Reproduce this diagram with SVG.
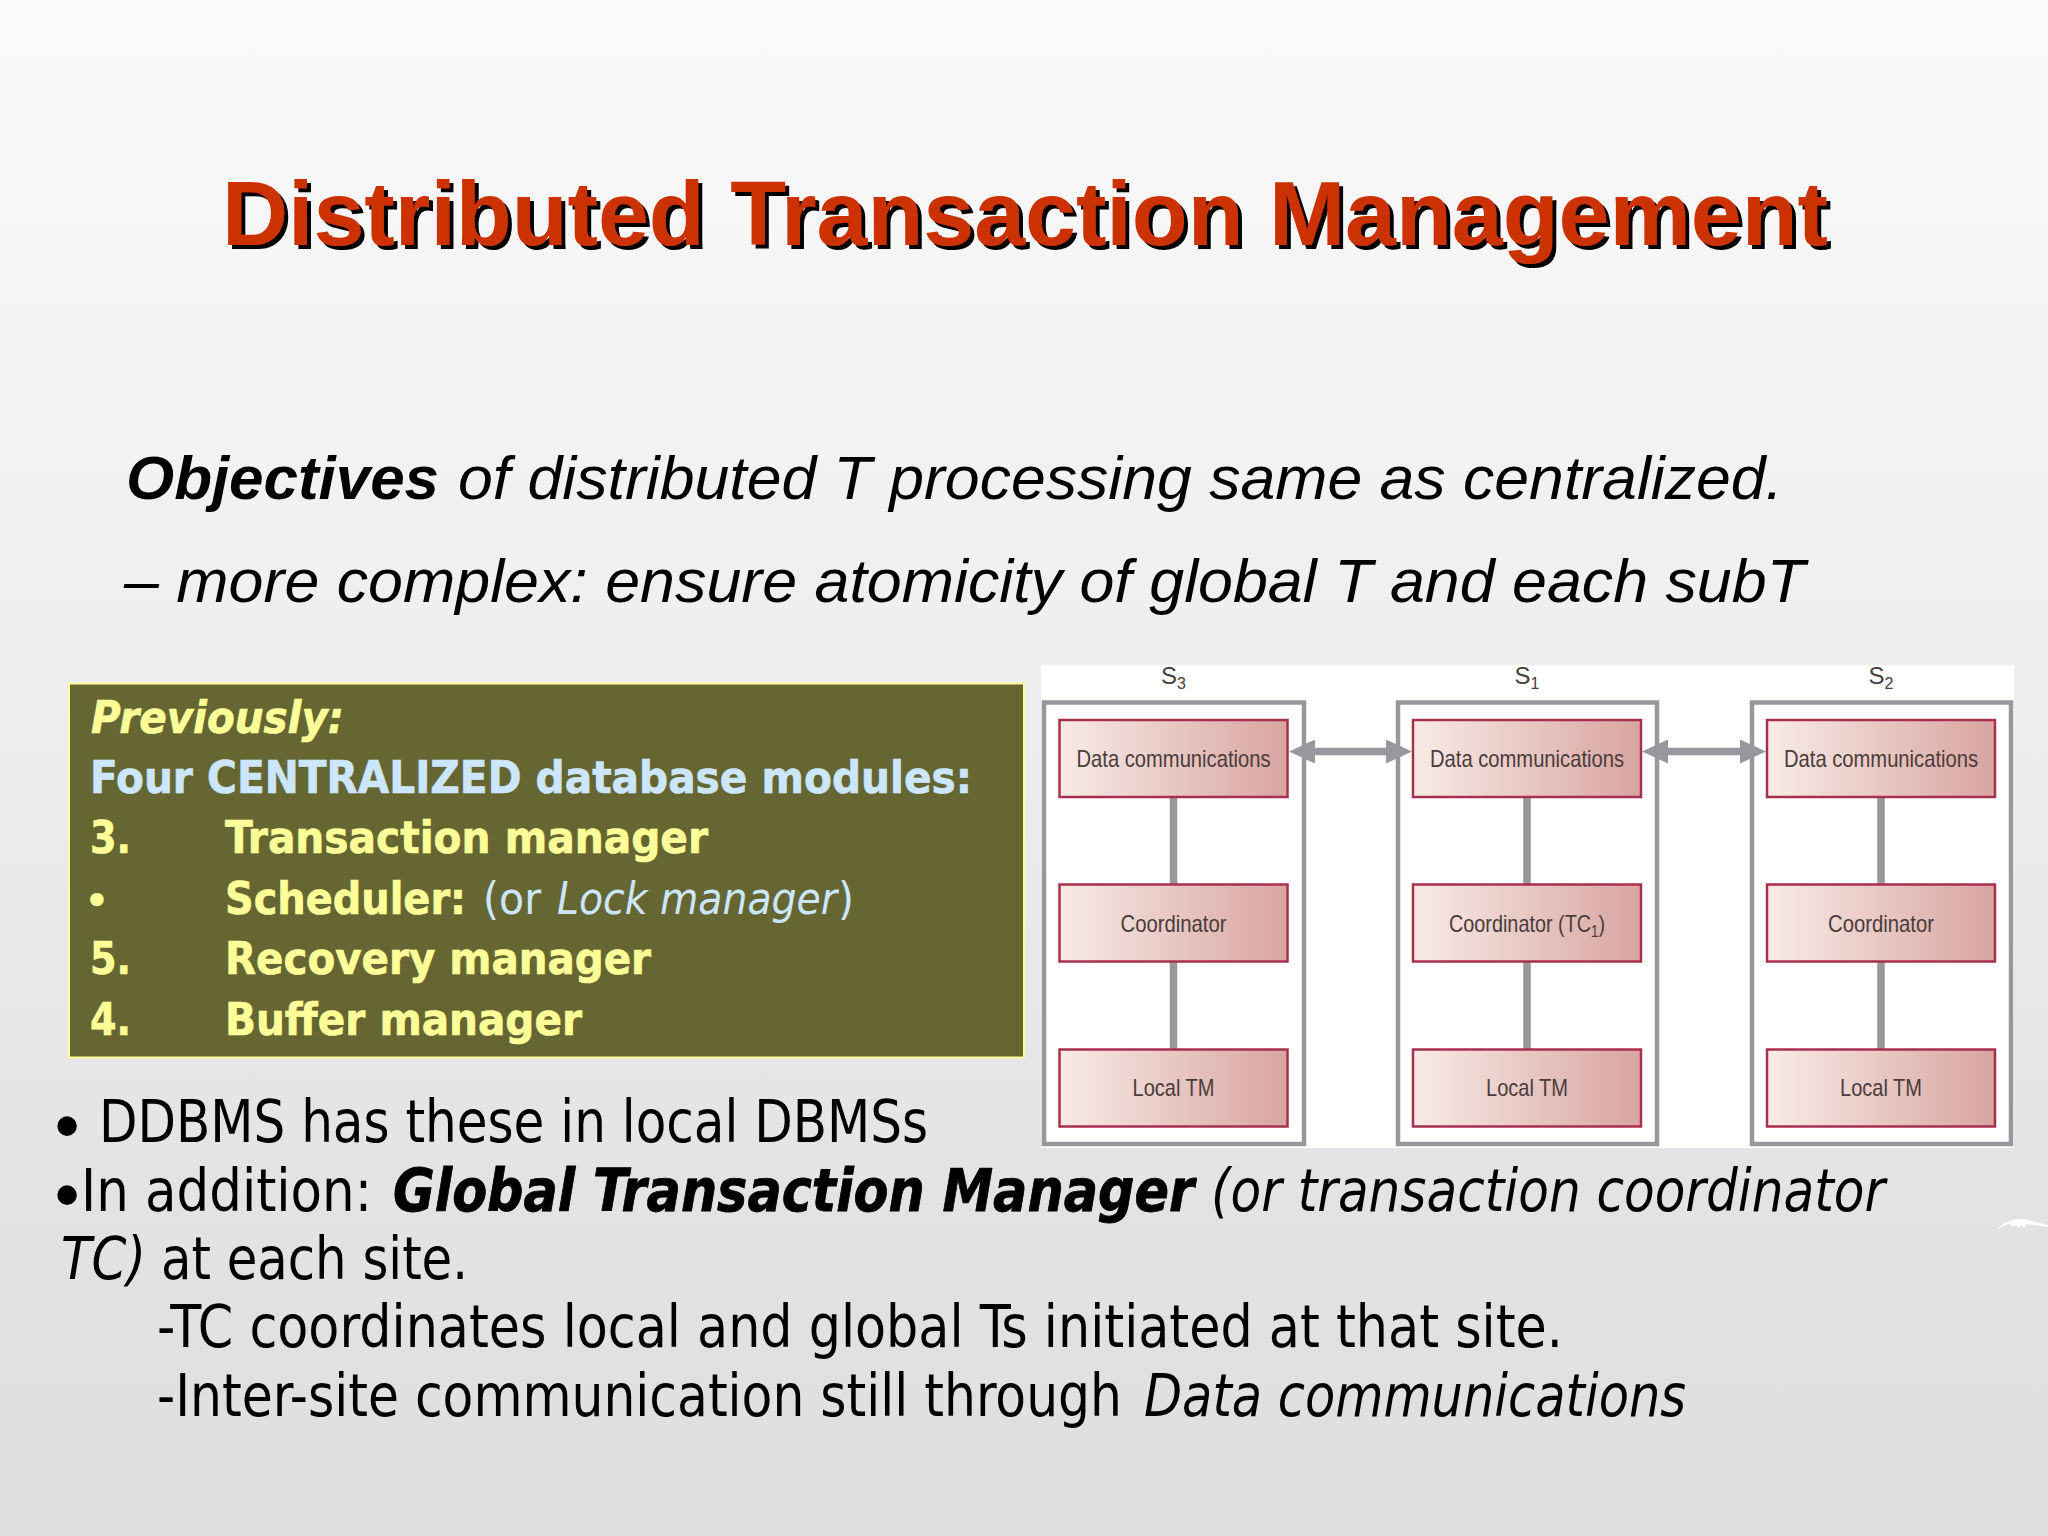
<svg xmlns="http://www.w3.org/2000/svg" width="2048" height="1536" viewBox="0 0 2048 1536">
<defs>
<linearGradient id="bg" x1="0" y1="0" x2="0" y2="1"><stop offset="0" stop-color="#fafafa"/><stop offset="0.44" stop-color="#eeeef0"/><stop offset="0.78" stop-color="#e3e2e4"/><stop offset="1" stop-color="#dfdfdf"/></linearGradient>
<linearGradient id="nodeFill" x1="0" y1="0" x2="1" y2="0"><stop offset="0" stop-color="#f8ebe6"/><stop offset="1" stop-color="#d8a4a0"/></linearGradient>
<filter id="hardShadow" x="-5%" y="-20%" width="110%" height="140%"><feDropShadow dx="4" dy="4" stdDeviation="0" flood-color="#000000"/></filter>
<marker id="arrowHead" viewBox="0 0 26 24" refX="26" refY="12" markerWidth="26" markerHeight="24" markerUnits="userSpaceOnUse" orient="auto-start-reverse"><path d="M0 0L26 12L0 24Z" fill="#98989c"/></marker>
</defs>
<style>
.t{font-family:"DejaVu Sans","Liberation Sans",sans-serif;font-stretch:condensed}
.a{font-family:"Liberation Sans",Arial,sans-serif}
.body{font-size:58px;fill:#000}
.box{font-size:45px;font-weight:bold;fill:#ffff99;stroke:#ffff99;stroke-width:.6}
.blue{fill:#cce6ff;stroke:#cce6ff}
.i{font-style:italic}
.b{font-weight:bold}
.n{font-weight:normal;stroke:none}
.heavy{stroke:#000;stroke-width:.8}
.site{fill:#fff;stroke:#98989c;stroke-width:4.5}
.mod{fill:url(#nodeFill);stroke:#a8304f;stroke-width:2.5}
.lab{font-family:"Liberation Sans",Arial,sans-serif;font-size:24px;fill:#4a3c3c;text-anchor:middle}
.conn{stroke:#98989c;stroke-width:7.5;fill:none}
</style>
<rect width="2048" height="1536" fill="url(#bg)"/>
<text id="title" class="a" x="222" y="245" font-size="90" font-weight="bold" fill="#cc3300" filter="url(#hardShadow)" textLength="1606" lengthAdjust="spacingAndGlyphs">Distributed Transaction Management</text>
<g id="objectives" font-size="61" fill="#000" font-family="Liberation Sans,Arial,sans-serif">
<text x="126" y="499" class="b i" textLength="313" lengthAdjust="spacingAndGlyphs">Objectives</text>
<text x="458" y="499" class="i" textLength="1325" lengthAdjust="spacingAndGlyphs">of distributed T processing same as centralized.</text>
<text x="124" y="602" class="i" textLength="1681" lengthAdjust="spacingAndGlyphs">– more complex: ensure atomicity of global T and each subT</text>
</g>
<g id="previously-box">
<rect x="69" y="683.500" width="955" height="374" fill="#666633" stroke="#ffff99" stroke-width="2"/>
<text class="t box i" x="91" y="733" textLength="253" lengthAdjust="spacingAndGlyphs">Previously:</text>
<text class="t box blue" x="90" y="793" textLength="882" lengthAdjust="spacingAndGlyphs">Four CENTRALIZED database modules:</text>
<text class="t box" x="90" y="853" textLength="41" lengthAdjust="spacingAndGlyphs">3.</text>
<text class="t box" x="225" y="853" textLength="483" lengthAdjust="spacingAndGlyphs">Transaction manager</text>
<text class="a box" x="89" y="914">•</text>
<text class="t box" x="225" y="914" textLength="241" lengthAdjust="spacingAndGlyphs">Scheduler:</text>
<text class="t box blue n" x="483" y="914" textLength="58" lengthAdjust="spacingAndGlyphs">(or</text>
<text class="t box blue n i" x="557" y="914" textLength="280" lengthAdjust="spacingAndGlyphs">Lock manager</text>
<text class="t box blue n" x="838" y="914" textLength="16" lengthAdjust="spacingAndGlyphs">)</text>
<text class="t box" x="90" y="974" textLength="41" lengthAdjust="spacingAndGlyphs">5.</text>
<text class="t box" x="225" y="974" textLength="426" lengthAdjust="spacingAndGlyphs">Recovery manager</text>
<text class="t box" x="90" y="1035" textLength="41" lengthAdjust="spacingAndGlyphs">4.</text>
<text class="t box" x="225" y="1035" textLength="357" lengthAdjust="spacingAndGlyphs">Buffer manager</text>
</g>
<rect id="figure-bg" x="1041" y="665" width="973" height="483" fill="#fff"/>
<g id="site-s3">
<text class="lab" x="1173.500" y="684">S<tspan font-size="16" dy="5">3</tspan></text>
<rect class="site" x="1044" y="702.500" width="260" height="441.500"/>
</g>
<g id="site-s1">
<text class="lab" x="1527" y="684">S<tspan font-size="16" dy="5">1</tspan></text>
<rect class="site" x="1398" y="702.500" width="259" height="441.500"/>
</g>
<g id="site-s2">
<text class="lab" x="1881" y="684">S<tspan font-size="16" dy="5">2</tspan></text>
<rect class="site" x="1752" y="702.500" width="259" height="441.500"/>
</g>
<g id="connectors">
<line class="conn" x1="1173.500" y1="796" x2="1173.500" y2="884"/>
<line class="conn" x1="1173.500" y1="961" x2="1173.500" y2="1049"/>
<line class="conn" x1="1527" y1="796" x2="1527" y2="884"/>
<line class="conn" x1="1527" y1="961" x2="1527" y2="1049"/>
<line class="conn" x1="1881" y1="796" x2="1881" y2="884"/>
<line class="conn" x1="1881" y1="961" x2="1881" y2="1049"/>
<line class="conn" x1="1309" y1="751.500" x2="1392" y2="751.500"/>
<line class="conn" x1="1663" y1="751.500" x2="1746" y2="751.500"/>
<line stroke="none" x1="1289" y1="751.500" x2="1412" y2="751.500" marker-start="url(#arrowHead)" marker-end="url(#arrowHead)"/>
<line stroke="none" x1="1642" y1="751.500" x2="1766" y2="751.500" marker-start="url(#arrowHead)" marker-end="url(#arrowHead)"/>
</g>
<g id="s3-data"><rect class="mod" x="1059.500" y="720" width="228" height="77"/><text class="lab" x="1173.500" y="767" textLength="194" lengthAdjust="spacingAndGlyphs">Data communications</text></g>
<g id="s3-coord"><rect class="mod" x="1059.500" y="884.500" width="228" height="77"/><text class="lab" x="1173.500" y="932" textLength="106" lengthAdjust="spacingAndGlyphs">Coordinator</text></g>
<g id="s3-tm"><rect class="mod" x="1059.500" y="1049.500" width="228" height="77"/><text class="lab" x="1173.500" y="1096" textLength="82" lengthAdjust="spacingAndGlyphs">Local TM</text></g>
<g id="s1-data"><rect class="mod" x="1413" y="720" width="228" height="77"/><text class="lab" x="1527" y="767" textLength="194" lengthAdjust="spacingAndGlyphs">Data communications</text></g>
<g id="s1-coord"><rect class="mod" x="1413" y="884.500" width="228" height="77"/><text class="lab" x="1527" y="932" textLength="156" lengthAdjust="spacingAndGlyphs">Coordinator (TC<tspan font-size="16" dy="5">1</tspan><tspan dy="-5">)</tspan></text></g>
<g id="s1-tm"><rect class="mod" x="1413" y="1049.500" width="228" height="77"/><text class="lab" x="1527" y="1096" textLength="82" lengthAdjust="spacingAndGlyphs">Local TM</text></g>
<g id="s2-data"><rect class="mod" x="1767" y="720" width="228" height="77"/><text class="lab" x="1881" y="767" textLength="194" lengthAdjust="spacingAndGlyphs">Data communications</text></g>
<g id="s2-coord"><rect class="mod" x="1767" y="884.500" width="228" height="77"/><text class="lab" x="1881" y="932" textLength="106" lengthAdjust="spacingAndGlyphs">Coordinator</text></g>
<g id="s2-tm"><rect class="mod" x="1767" y="1049.500" width="228" height="77"/><text class="lab" x="1881" y="1096" textLength="82" lengthAdjust="spacingAndGlyphs">Local TM</text></g>
<g id="bottom-text">
<text class="a" font-size="72" x="54.500" y="1150">•</text>
<text class="t body" x="99" y="1142" textLength="829" lengthAdjust="spacingAndGlyphs">DDBMS has these in local DBMSs</text>
<text class="a" font-size="72" x="54.500" y="1219">•</text>
<text class="t body" x="81" y="1211" textLength="291" lengthAdjust="spacingAndGlyphs">In addition:</text>
<text class="t body b i heavy" x="393" y="1211" textLength="801" lengthAdjust="spacingAndGlyphs">Global Transaction Manager</text>
<text class="t body i" x="1211" y="1211" textLength="674" lengthAdjust="spacingAndGlyphs">(or transaction coordinator</text>
<text class="t body i" x="61" y="1279" textLength="85" lengthAdjust="spacingAndGlyphs">TC)</text>
<text class="t body" x="161" y="1279" textLength="307" lengthAdjust="spacingAndGlyphs">at each site.</text>
<text class="t body" x="157" y="1347" textLength="1406" lengthAdjust="spacingAndGlyphs">-TC coordinates local and global Ts initiated at that site.</text>
<text class="t body" x="157" y="1416" textLength="965" lengthAdjust="spacingAndGlyphs">-Inter-site communication still through</text>
<text class="t body i" x="1144" y="1416" textLength="542" lengthAdjust="spacingAndGlyphs">Data communications</text>
</g>
<path id="swoosh" d="M1997 1230C2003 1222 2015 1218 2024 1219L2048 1225L2048 1227L2026 1224L2024 1228L2021 1225L2019 1228L2016 1225L2013 1227L2010 1224C2005 1225 2000 1227 1997 1230Z" fill="#fff"/>
</svg>
